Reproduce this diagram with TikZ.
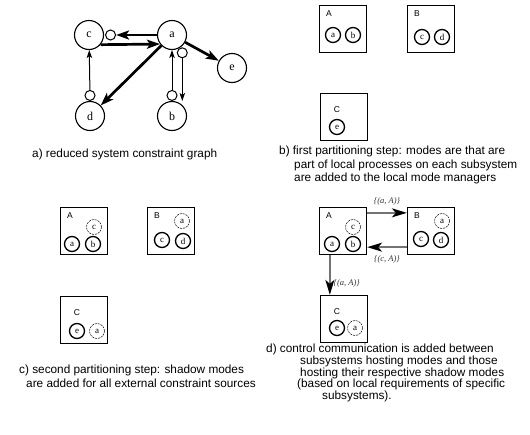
\documentclass[tikz,border=0pt]{standalone}
\usepackage{fontspec}
\setmainfont{Liberation Serif}
\setsansfont{Liberation Sans}
\usetikzlibrary{arrows.meta,calc,positioning}

\tikzset{
  mode/.style={circle,draw,line width=1.1pt,minimum size=29pt,inner sep=0pt,font=\fontsize{12}{12}\selectfont},
  port/.style={circle,draw,line width=1pt,minimum size=10pt,inner sep=0pt},
  heavy/.style={line width=2.7pt,-{Stealth[length=13pt,width=9pt,inset=3pt]}},
  light/.style={line width=1pt,-{Stealth[length=8pt,width=5.5pt,inset=2pt]}},
  boxlbl/.style={font=\sffamily\fontsize{8.5}{9}\selectfont,inner sep=0pt,anchor=center,xshift=10pt,yshift=-9pt},
  sub/.style={draw,line width=1.3pt,minimum size=47pt,inner sep=0pt,label={[boxlbl]north west:#1}},
  subc/.style={draw,line width=1.3pt,minimum size=47pt,inner sep=0pt,label={[boxlbl,xshift=7pt,yshift=-8pt]north west:#1}},
  lmode/.style={circle,draw,line width=1.3pt,minimum size=15pt,inner sep=0pt,font=\fontsize{9}{9}\selectfont},
  smode/.style={circle,draw,line width=0.5pt,dash pattern=on 2pt off 1pt,minimum size=15pt,inner sep=0pt,font=\fontsize{9}{9}\selectfont},
  comm/.style={black!55,line width=1.7pt,-{Stealth[length=15pt,width=9pt,inset=4pt,color=black]}},
  tuple/.style={font=\itshape\fontsize{8.5}{9}\selectfont,inner sep=0pt,text=black!80},
  caption/.style={align=left,anchor=north west,inner sep=0pt,font=\sffamily\fontsize{11.8}{13.5}\selectfont}
}

\begin{document}
\begin{tikzpicture}[x=1pt,y=-1pt]
  \useasboundingbox (0,0) rectangle (530,434);

  \node[mode] (a) at (172,35) {a};
  \node[mode] (c) at (89,35) {c};
  \node[mode] (e) at (232,68) {e};
  \node[mode] (d) at (90,116) {d};
  \node[mode] (b) at (172,116) {b};
  \node[port,right=1pt of c] (pc) {};
  \node[port,above=0pt of d] (pd) {};
  \node[port,above=0pt of b] (pb) {};
  \node[port,anchor=120] (pa) at (a.-60) {};
  \draw[heavy] (a) -- (pc);
  \draw[heavy] (c.-40) -- (a.-143);
  \draw[heavy] (a) -- (d);
  \draw[heavy] (a) -- (e);
  \draw[light] (pd) -- (c);
  \draw[light] (pb) -- (a);
  \draw[light] (pa) -- (pa |- b.north);
  \node[caption] (capa) at (32,149) {a) reduced system constraint graph};

  \node[sub=A] (bA) at (343,29) {};
  \node[sub=B] (bB) at (431,29) {};
  \node[subc=C] (bC) at (344,117) {};
  \node[lmode] (bAa) at ($(bA)+(-10,6)$) {a};
  \node[lmode] (bAb) at ($(bA)+(10,6)$) {b};
  \node[lmode] (bBc) at ($(bB)+(-9,8)$) {c};
  \node[lmode] (bBd) at ($(bB)+(11,8)$) {d};
  \node[lmode] (bCe) at ($(bC)+(-7,10)$) {e};
  \node[caption] (capb) at (279,146) {b) first partitioning step: modes are that are\\
    \hspace*{15pt}part of local processes on each subsystem\\
    \hspace*{15pt}are added to the local mode managers};

  \node[sub=A] (cA) at (84,231) {};
  \node[sub=B] (cB) at (171,231) {};
  \node[subc=C] (cC) at (84,320) {};
  \node[smode] (cAc) at ($(cA)+(10,-4)$) {c};
  \node[lmode] (cAa) at ($(cA)+(-12,13)$) {a};
  \node[lmode] (cAb) at ($(cA)+(9,13)$) {b};
  \node[smode] (cBa) at ($(cB)+(11,-10)$) {a};
  \node[lmode] (cBc) at ($(cB)+(-9,9)$) {c};
  \node[lmode] (cBd) at ($(cB)+(12,10)$) {d};
  \node[lmode] (cCe) at ($(cC)+(-7,11)$) {e};
  \node[smode] (cCa) at ($(cC)+(13,11)$) {a};
  \node[caption] (capc) at (19,365) {c) second partitioning step: shadow modes\\
    \hspace*{7pt}are added for all external constraint sources};

  \node[sub=A] (dA) at (343,231) {};
  \node[sub=B] (dB) at (431,231) {};
  \node[subc=C] (dC) at (344,319) {};
  \node[smode] (dAc) at ($(dA)+(10,-4)$) {c};
  \node[lmode] (dAa) at ($(dA)+(-11,13)$) {a};
  \node[lmode] (dAb) at ($(dA)+(10,13)$) {b};
  \node[smode] (dBa) at ($(dB)+(11,-10)$) {a};
  \node[lmode] (dBc) at ($(dB)+(-10,8)$) {c};
  \node[lmode] (dBd) at ($(dB)+(10,9)$) {d};
  \node[lmode] (dCe) at ($(dC)+(-7,9)$) {e};
  \node[smode] (dCa) at ($(dC)+(11,9)$) {a};
  \coordinate (ac) at ($(dA.south west)+(11,0)$);
  \draw[comm] ($(dA.north east)+(0,6)$) -- ($(dB.north west)+(0,6)$)
    node[tuple,midway,above=7pt] {\{(a, A)\}};
  \draw[comm] ($(dB.south west)+(0,-8)$) -- ($(dA.south east)+(0,-8)$)
    node[tuple,midway,below=8pt] {\{(c, A)\}};
  \draw[comm] (ac) -- (ac |- dC.north)
    node[tuple,pos=.72,right=3pt] {\{(a, A)\}};
  \node[caption,font=\sffamily\fontsize{11.8}{11.7}\selectfont] (capd) at (266,344) {d) control communication is added between\\
    \hspace*{34pt}subsystems hosting modes and those\\
    \hspace*{34pt}hosting their respective shadow modes\\
    \hspace*{31pt}(based on local requirements of specific\\
    \hspace*{56pt}subsystems).};
\end{tikzpicture}
\end{document}
